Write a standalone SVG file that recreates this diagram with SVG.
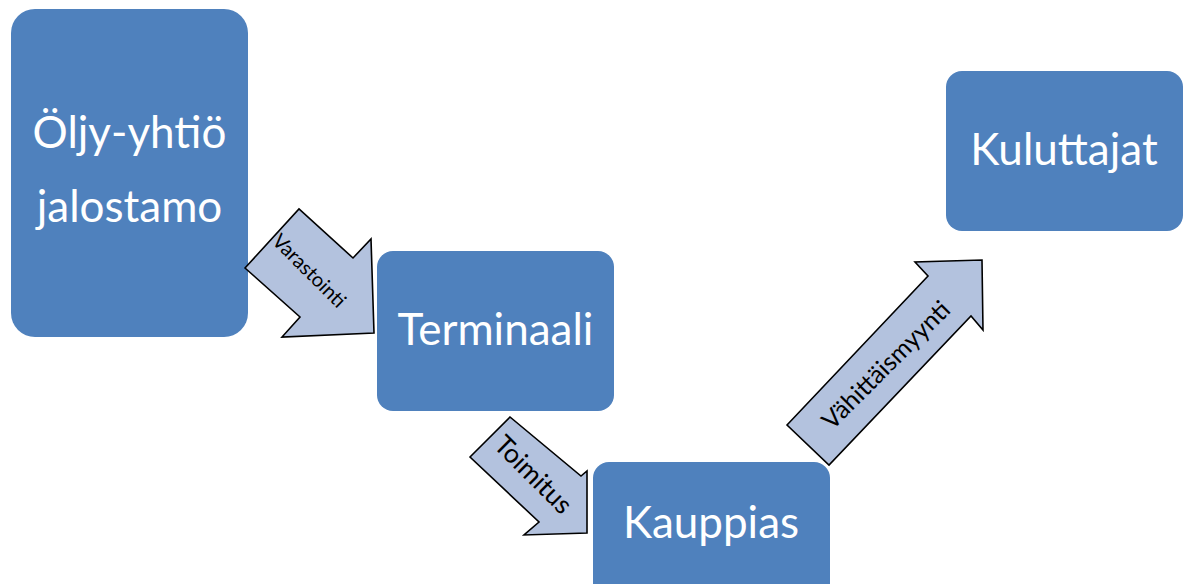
<svg xmlns="http://www.w3.org/2000/svg" width="1189" height="584" viewBox="0 0 1189 584">
  <style>
    .box { fill: #4F81BD; }
    .lbl { fill: #FFFFFF; font-family: "Lato", "Open Sans", "Liberation Sans", sans-serif; font-size: 44px; text-anchor: middle; }
    .arrow { fill: #B3C2DE; stroke: #000000; stroke-width: 1.6; stroke-linejoin: miter; }
    .alb { fill: #000000; font-family: "Lato", "Open Sans", "Liberation Sans", sans-serif; text-anchor: middle; dominant-baseline: central; }
  </style>
  <rect width="1189" height="584" fill="#FFFFFF"/>
  <g id="node-oljyyhtio">
    <rect class="box" x="11" y="9" width="237" height="328" rx="24" ry="24"/>
    <text class="lbl" x="129.5" y="148">Öljy-yhtiö</text>
    <text class="lbl" x="129.5" y="222">jalostamo</text>
  </g>
  <g id="node-terminaali">
    <rect class="box" x="377" y="251" width="237" height="160" rx="16" ry="16"/>
    <text class="lbl" x="495.5" y="345">Terminaali</text>
  </g>
  <g id="node-kauppias">
    <rect class="box" x="593" y="462" width="237" height="160" rx="16" ry="16"/>
    <text class="lbl" x="711" y="538">Kauppias</text>
  </g>
  <g id="node-kuluttajat">
    <rect class="box" x="946" y="71" width="237" height="160" rx="16" ry="16"/>
    <text class="lbl" x="1064" y="165">Kuluttajat</text>
  </g>
  <g id="connectors">
    <g id="arrow-varastointi">
      <polygon class="arrow" points="245,268 299,209 353,258 371,239 374,333 282,337 300,317"/>
      <text class="alb" font-size="20" transform="translate(310,270) rotate(45)">Varastointi</text>
    </g>
    <g id="arrow-toimitus">
      <polygon class="arrow" points="470,457 510,417 581,476 587,471 587,533 524,535 539,522"/>
      <text class="alb" font-size="26.5" transform="translate(534,474) rotate(45)">Toimitus</text>
    </g>
    <g id="arrow-vahittaismyynti">
      <polygon class="arrow" points="787,425 928,276 915,262 982,260 983,330 971,316 829,465"/>
      <text class="alb" font-size="25" transform="translate(885,364) rotate(-45)">Vähittäismyynti</text>
    </g>
  </g>
</svg>
